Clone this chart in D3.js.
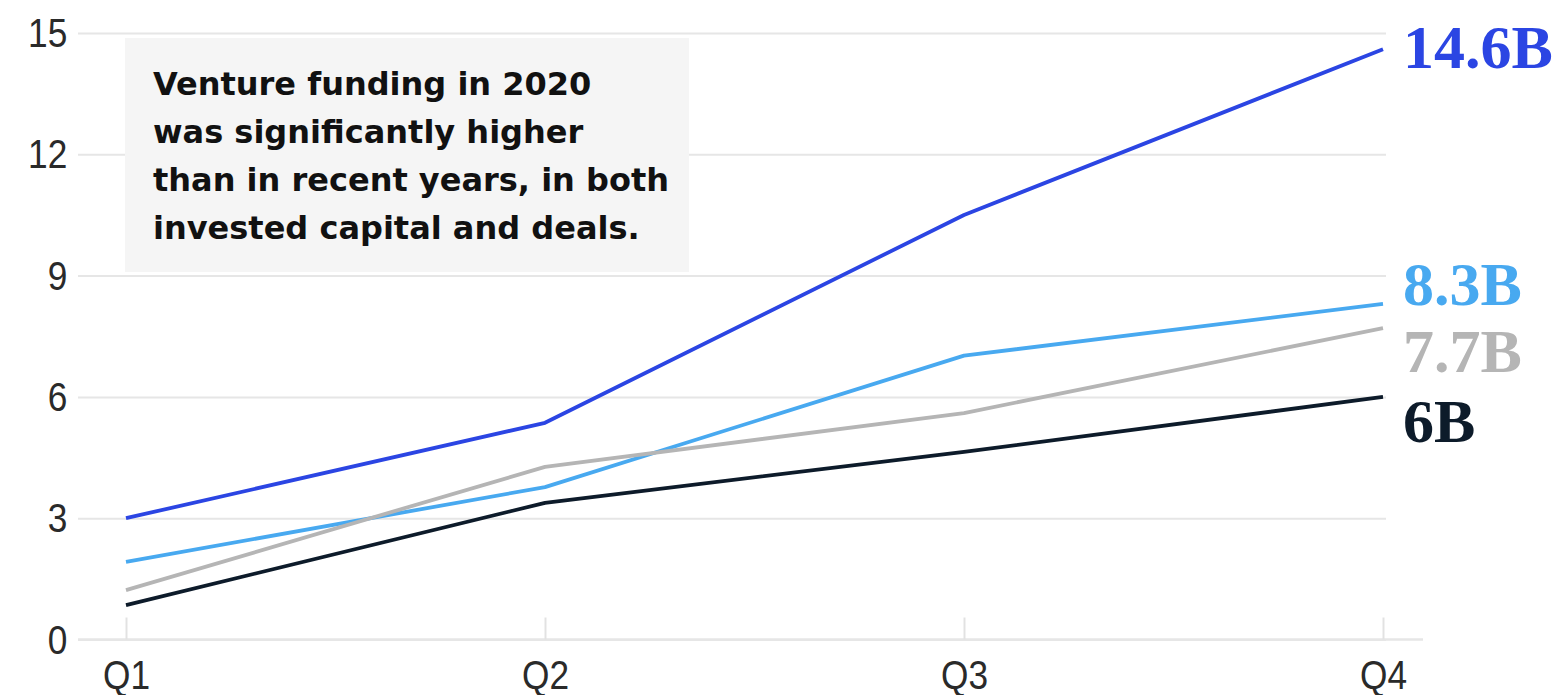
<!DOCTYPE html>
<html>
<head>
<meta charset="utf-8">
<script src="https://cdn.jsdelivr.net/npm/d3@7"></script>
<style>
  html, body { margin: 0; padding: 0; background: #ffffff; }
  svg { display: block; }
</style>
</head>
<body>
<svg id="chart" width="1558" height="695"></svg>
<script>
// ---- Data ----
const quarters = ["Q1", "Q2", "Q3", "Q4"];
const yTicks = [0, 3, 6, 9, 12, 15];
const seriesNames = ["s1", "s2", "s3", "s4"];
const seriesA = [3.0, 5.36, 10.5, 14.6];   // dark blue
const seriesB = [1.92, 3.77, 7.02, 8.3];   // light blue
const seriesC = [1.22, 4.27, 5.6, 7.7];    // gray
const seriesD = [0.85, 3.38, 4.64, 6.0];   // black
const endLabels = ["14.6B", "8.3B", "7.7B", "6B"];
const annotationLines = [
  "Venture funding in 2020",
  "was significantly higher",
  "than in recent years, in both",
  "invested capital and deals."
];

// ---- Styling / layout ----
const colors = ["#2B45E3", "#48A9F0", "#B5B5B5", "#0D1B2A"];
const labelBaselineOffset = [19, 1, 44, 45];
const series = [seriesA, seriesB, seriesC, seriesD];

const svg = d3.select("#chart");
const gridLeft = 78, gridRight = 1386, baseRight = 1423;

const x = d3.scalePoint().domain(quarters).range([126, 1383]);
const y = d3.scaleLinear().domain([0, 15]).range([639.5, 33]);

// Y axis with gridlines
const yAxis = svg.append("g")
  .attr("transform", `translate(${gridLeft},0)`)
  .call(d3.axisLeft(y).tickValues(yTicks).tickSize(-(gridRight - gridLeft)).tickPadding(10).tickFormat(d3.format("d")));
yAxis.select(".domain").remove();
yAxis.selectAll(".tick line").attr("stroke", "#e6e6e6").attr("stroke-width", 2);
yAxis.selectAll(".tick text")
  .attr("font-family", "'Liberation Sans', Arial, sans-serif")
  .attr("font-size", 41)
  .attr("fill", "#2a2a2a")
  .attr("x", -12.5)
  .attr("dy", "0.33em")
  .attr("transform", "scale(0.86,1)");

// Baseline
svg.append("line")
  .attr("x1", gridLeft).attr("x2", baseRight)
  .attr("y1", y(0)).attr("y2", y(0))
  .attr("stroke", "#e6e6e6").attr("stroke-width", 2.5);

// X axis
const xAxis = svg.append("g")
  .attr("transform", `translate(0,${y(0)})`)
  .call(d3.axisBottom(x).tickSize(-22).tickPadding(20));
xAxis.select(".domain").remove();
xAxis.selectAll(".tick line").attr("stroke", "#e2e2e2").attr("stroke-width", 2);
xAxis.selectAll(".tick text")
  .attr("font-family", "'Liberation Sans', Arial, sans-serif")
  .attr("font-size", 41)
  .attr("fill", "#2a2a2a")
  .attr("transform", "scale(0.86,1)");

// Annotation box
svg.append("rect")
  .attr("x", 125).attr("y", 38)
  .attr("width", 564).attr("height", 234)
  .attr("fill", "#f5f5f5");
svg.append("g").selectAll("text")
  .data(annotationLines)
  .join("text")
  .attr("x", 153)
  .attr("y", (d, i) => 95 + i * 48)
  .attr("font-family", "'DejaVu Sans', sans-serif")
  .attr("font-weight", "bold")
  .attr("font-size", 32)
  .attr("fill", "#111")
  .text(d => d);

// Lines
const line = d3.line()
  .x((d, i) => x(quarters[i]))
  .y(d => y(d));

svg.append("g").selectAll("path")
  .data(series)
  .join("path")
  .attr("d", d => line(d))
  .attr("fill", "none")
  .attr("stroke", (d, i) => colors[i])
  .attr("stroke-width", 3.8)
  .attr("stroke-linejoin", "round");

// End labels
svg.append("g").selectAll("text")
  .data(series)
  .join("text")
  .attr("x", x("Q4") + 20)
  .attr("y", (d, i) => y(d[d.length - 1]) + labelBaselineOffset[i])
  .attr("font-family", "'Liberation Serif', 'Times New Roman', serif")
  .attr("font-weight", "bold")
  .attr("font-size", 62)
  .attr("fill", (d, i) => colors[i])
  .text((d, i) => endLabels[i]);
</script>
</body>
</html>
